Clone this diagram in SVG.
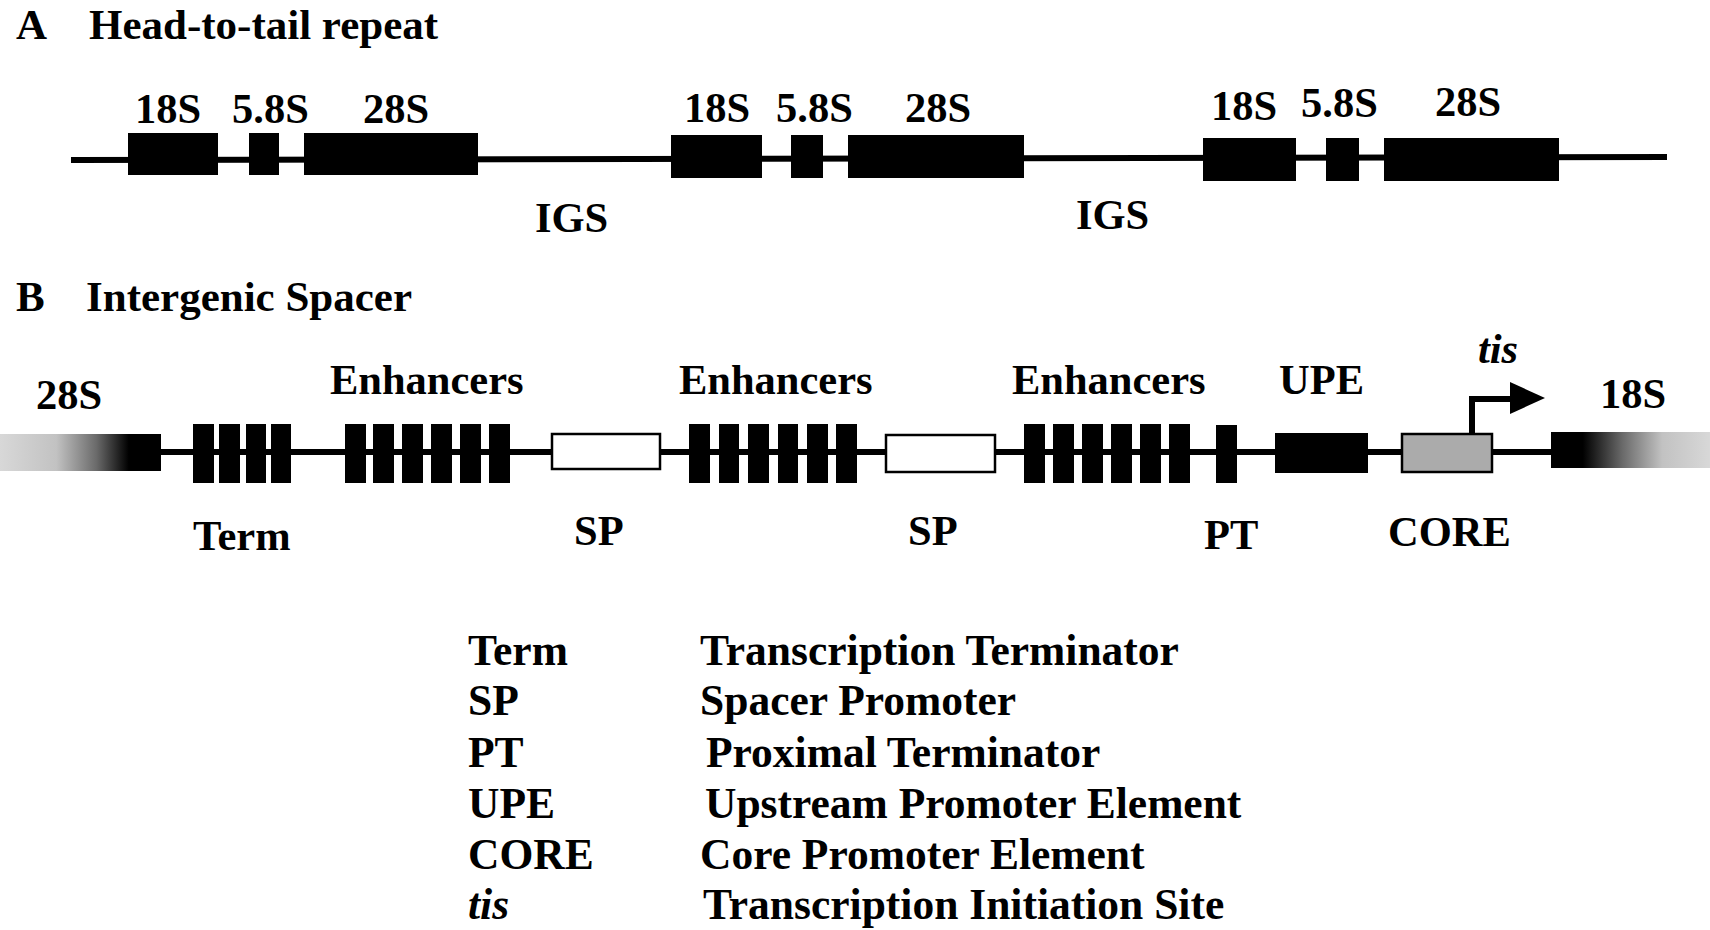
<svg xmlns="http://www.w3.org/2000/svg" width="1710" height="930" viewBox="0 0 1710 930">
<style>
text { font-family: "Liberation Serif", "Times New Roman", serif; font-weight: bold; fill: #000; }
.t { font-size: 43px; }
.s { font-size: 42.5px; }
.lg { font-size: 43.5px; }
.it { font-style: italic; }
.blk { fill: #000; }
.sp { fill: #fff; stroke: #000; stroke-width: 2.5; }
.core { fill: #ababab; stroke: #000; stroke-width: 2.5; }
.ln { stroke: #000; stroke-width: 6; fill: none; }
</style>
<defs>
<linearGradient id="gl" x1="0" y1="0" x2="1" y2="0">
<stop offset="0" stop-color="#d8d8d8"/>
<stop offset="0.35" stop-color="#c2c2c2"/>
<stop offset="0.6" stop-color="#6a6a6a"/>
<stop offset="0.8" stop-color="#000"/>
<stop offset="1" stop-color="#000"/>
</linearGradient>
<linearGradient id="gr" x1="0" y1="0" x2="1" y2="0">
<stop offset="0" stop-color="#000"/>
<stop offset="0.2" stop-color="#000"/>
<stop offset="0.45" stop-color="#6a6a6a"/>
<stop offset="0.7" stop-color="#c2c2c2"/>
<stop offset="1" stop-color="#d8d8d8"/>
</linearGradient>
</defs>

<g id="titleA">
<text class="t" x="16" y="39">A</text>
<text class="t" x="89" y="39">Head-to-tail repeat</text>
</g>
<g id="titleB">
<text class="t" x="16" y="311">B</text>
<text class="t" x="86" y="311">Intergenic Spacer</text>
</g>

<g id="connectors">
<path class="ln" d="M71,160 L1667,157"/>
<path class="ln" d="M160,452 L1552,452"/>
<path class="ln" d="M1472,434 L1472,399 L1511,399"/>
<path d="M1510,382 L1545,398 L1510,414 z" fill="#000"/>
</g>

<g id="unit1">
<rect class="blk" x="128" y="133" width="90" height="42"/>
<rect class="blk" x="249" y="133" width="30" height="42"/>
<rect class="blk" x="304" y="133" width="174" height="42"/>
<text class="s" x="135" y="123">18S</text>
<text class="s" x="232" y="123">5.8S</text>
<text class="s" x="363" y="123">28S</text>
</g>
<g id="igs1"><text class="s" x="535" y="232">IGS</text></g>
<g id="unit2">
<rect class="blk" x="671" y="135" width="91" height="43"/>
<rect class="blk" x="791" y="135" width="32" height="43"/>
<rect class="blk" x="848" y="135" width="176" height="43"/>
<text class="s" x="684" y="122">18S</text>
<text class="s" x="776" y="122">5.8S</text>
<text class="s" x="905" y="122">28S</text>
</g>
<g id="igs2"><text class="s" x="1076" y="229">IGS</text></g>
<g id="unit3">
<rect class="blk" x="1203" y="138" width="93" height="43"/>
<rect class="blk" x="1326" y="138" width="33" height="43"/>
<rect class="blk" x="1384" y="138" width="175" height="43"/>
<text class="s" x="1211" y="120">18S</text>
<text class="s" x="1301" y="117">5.8S</text>
<text class="s" x="1435" y="116">28S</text>
</g>

<g id="b28S">
<rect x="0" y="434" width="161" height="37" fill="url(#gl)"/>
<text class="s" x="36" y="409">28S</text>
</g>
<g id="term">
<rect class="blk" x="193" y="424" width="21" height="59"/>
<rect class="blk" x="219" y="424" width="21" height="59"/>
<rect class="blk" x="246" y="424" width="20" height="59"/>
<rect class="blk" x="271" y="424" width="20" height="59"/>
<text class="s" x="193" y="550">Term</text>
</g>
<g id="enh1">
<rect class="blk" x="345" y="424" width="21" height="59"/>
<rect class="blk" x="373" y="424" width="21" height="59"/>
<rect class="blk" x="402" y="424" width="21" height="59"/>
<rect class="blk" x="431" y="424" width="21" height="59"/>
<rect class="blk" x="460" y="424" width="21" height="59"/>
<rect class="blk" x="489" y="424" width="21" height="59"/>
<text class="s" x="330" y="394">Enhancers</text>
</g>
<g id="sp1">
<rect class="sp" x="552" y="434" width="108" height="35"/>
<text class="s" x="574" y="545">SP</text>
</g>
<g id="enh2">
<rect class="blk" x="689" y="424" width="21" height="59"/>
<rect class="blk" x="719" y="424" width="20" height="59"/>
<rect class="blk" x="748" y="424" width="21" height="59"/>
<rect class="blk" x="778" y="424" width="20" height="59"/>
<rect class="blk" x="807" y="424" width="21" height="59"/>
<rect class="blk" x="836" y="424" width="21" height="59"/>
<text class="s" x="679" y="394">Enhancers</text>
</g>
<g id="sp2">
<rect class="sp" x="886" y="435" width="109" height="37"/>
<text class="s" x="908" y="545">SP</text>
</g>
<g id="enh3">
<rect class="blk" x="1024" y="424" width="21" height="59"/>
<rect class="blk" x="1053" y="424" width="21" height="59"/>
<rect class="blk" x="1082" y="424" width="21" height="59"/>
<rect class="blk" x="1111" y="424" width="21" height="59"/>
<rect class="blk" x="1140" y="424" width="21" height="59"/>
<rect class="blk" x="1169" y="424" width="21" height="59"/>
<text class="s" x="1012" y="394">Enhancers</text>
</g>
<g id="pt">
<rect class="blk" x="1216" y="425" width="21" height="58"/>
<text class="s" x="1204" y="549">PT</text>
</g>
<g id="upe">
<rect class="blk" x="1275" y="433" width="93" height="40"/>
<text class="s" x="1279" y="394">UPE</text>
</g>
<g id="core">
<rect class="core" x="1402" y="434" width="90" height="38"/>
<text class="s" x="1388" y="546">CORE</text>
</g>
<g id="tis">
<text class="s it" x="1478" y="363">tis</text>
</g>
<g id="b18S">
<rect x="1551" y="432" width="159" height="36" fill="url(#gr)"/>
<text class="s" x="1600" y="408">18S</text>
</g>

<g id="legend">
<text class="lg" x="468" y="665">Term</text>
<text class="lg" x="468" y="715">SP</text>
<text class="lg" x="468" y="767">PT</text>
<text class="lg" x="468" y="818">UPE</text>
<text class="lg" x="468" y="869">CORE</text>
<text class="lg it" x="468" y="919">tis</text>
<text class="lg" x="700" y="665">Transcription Terminator</text>
<text class="lg" x="700" y="715">Spacer Promoter</text>
<text class="lg" x="706" y="767">Proximal Terminator</text>
<text class="lg" x="705" y="818">Upstream Promoter Element</text>
<text class="lg" x="700" y="869">Core Promoter Element</text>
<text class="lg it" x="703" y="919" style="font-style:normal">Transcription Initiation Site</text>
</g>
</svg>
